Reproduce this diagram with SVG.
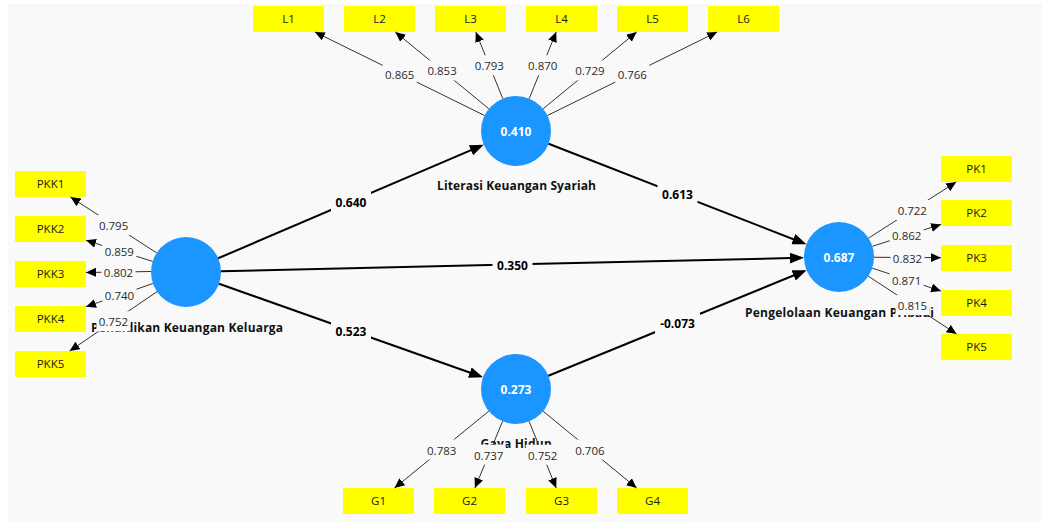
<svg xmlns="http://www.w3.org/2000/svg" width="1042" height="531" viewBox="0 0 1042 531">
  <style>
    .panel { fill: #f9f9f9; }
    .ind rect { fill: #ffff00; }
    .ind text { font-family: "Open Sans", "Noto Sans", sans-serif; font-size: 11.5px; fill: #1a1a1a; text-anchor: middle; }
    .lv circle { fill: #1b95ff; }
    .lv .val { font-family: "Open Sans", "Noto Sans", sans-serif; font-size: 12px; font-weight: bold; fill: #ffffff; text-anchor: middle; }
    .lv .name { font-family: "Open Sans", "Noto Sans", sans-serif; font-size: 12px; font-weight: bold; fill: #111111; text-anchor: middle; }
    .outer { stroke: #333333; stroke-width: 1; fill: none; marker-end: url(#ah-s); }
    .inner { stroke: #000000; stroke-width: 2; fill: none; marker-end: url(#ah-l); }
    .bg { fill: #f9f9f9; }
    .w { font-family: "Open Sans", "Noto Sans", sans-serif; font-size: 11.5px; fill: #2a2a2a; text-anchor: middle; }
    .p { font-family: "Open Sans", "Noto Sans", sans-serif; font-size: 12px; font-weight: bold; fill: #000000; text-anchor: middle; }
  </style>
  <defs>
    <marker id="ah-s" markerUnits="userSpaceOnUse" markerWidth="11" markerHeight="10" refX="10" refY="4.5" orient="auto">
      <path d="M0,0 L10,4.5 L0,9 z" fill="#000000"/>
    </marker>
    <marker id="ah-l" markerUnits="userSpaceOnUse" markerWidth="15" markerHeight="12" refX="11" refY="5.5" orient="auto">
      <path d="M0,0 L14,5.5 L0,11 z" fill="#000000"/>
    </marker>
  </defs>

  <rect class="panel" x="8" y="4" width="1034" height="518"/>

  <!-- latent variables -->
  <g id="pendidikan" class="lv">
    <circle cx="186" cy="272" r="35"/>
    <text class="name" x="187" y="332" textLength="192">Pendidikan Keuangan Keluarga</text>
  </g>
  <g id="literasi" class="lv">
    <circle cx="516" cy="131" r="35"/>
    <text class="val" x="516" y="135.5">0.410</text>
    <text class="name" x="516.5" y="189.5" textLength="159">Literasi Keuangan Syariah</text>
  </g>
  <g id="gaya-hidup" class="lv">
    <circle cx="516" cy="389" r="35"/>
    <text class="val" x="516" y="393.5">0.273</text>
    <text class="name" x="516" y="447.5" textLength="71">Gaya Hidup</text>
  </g>
  <g id="pengelolaan" class="lv">
    <circle cx="839" cy="257" r="35"/>
    <text class="val" x="839" y="261.5">0.687</text>
    <text class="name" x="839.5" y="317" textLength="189">Pengelolaan Keuangan Pribadi</text>
  </g>

  <!-- indicators -->
  <g id="L1" class="ind"><rect x="253" y="6" width="71" height="26"/><text x="288.5" y="23">L1</text></g>
  <g id="L2" class="ind"><rect x="344" y="6" width="71" height="26"/><text x="379.5" y="23">L2</text></g>
  <g id="L3" class="ind"><rect x="435" y="6" width="71" height="26"/><text x="470.5" y="23">L3</text></g>
  <g id="L4" class="ind"><rect x="526" y="6" width="71" height="26"/><text x="561.5" y="23">L4</text></g>
  <g id="L5" class="ind"><rect x="617" y="6" width="71" height="26"/><text x="652.5" y="23">L5</text></g>
  <g id="L6" class="ind"><rect x="708" y="6" width="71" height="26"/><text x="743.5" y="23">L6</text></g>

  <g id="PKK1" class="ind"><rect x="15" y="171" width="71" height="26"/><text x="50.5" y="188">PKK1</text></g>
  <g id="PKK2" class="ind"><rect x="15" y="216" width="71" height="26"/><text x="50.5" y="233">PKK2</text></g>
  <g id="PKK3" class="ind"><rect x="15" y="261" width="71" height="26"/><text x="50.5" y="278">PKK3</text></g>
  <g id="PKK4" class="ind"><rect x="15" y="306" width="71" height="26"/><text x="50.5" y="323">PKK4</text></g>
  <g id="PKK5" class="ind"><rect x="15" y="351" width="71" height="26"/><text x="50.5" y="368">PKK5</text></g>

  <g id="PK1" class="ind"><rect x="941" y="156" width="71" height="26"/><text x="976.5" y="173">PK1</text></g>
  <g id="PK2" class="ind"><rect x="941" y="200" width="71" height="26"/><text x="976.5" y="217">PK2</text></g>
  <g id="PK3" class="ind"><rect x="941" y="245" width="71" height="26"/><text x="976.5" y="262">PK3</text></g>
  <g id="PK4" class="ind"><rect x="941" y="290" width="71" height="26"/><text x="976.5" y="307">PK4</text></g>
  <g id="PK5" class="ind"><rect x="941" y="334" width="71" height="26"/><text x="976.5" y="351">PK5</text></g>

  <g id="G1" class="ind"><rect x="343" y="488" width="71" height="26"/><text x="378.5" y="505">G1</text></g>
  <g id="G2" class="ind"><rect x="434" y="488" width="71" height="26"/><text x="469.5" y="505">G2</text></g>
  <g id="G3" class="ind"><rect x="526" y="488" width="71" height="26"/><text x="561.5" y="505">G3</text></g>
  <g id="G4" class="ind"><rect x="617" y="488" width="71" height="26"/><text x="652.5" y="505">G4</text></g>

  <!-- connectors: outer loadings, then inner paths -->
  <g id="connectors">
    <line class="outer" x1="484.6" y1="115.5" x2="314.9" y2="32"/>
    <line class="outer" x1="488.9" y1="108.8" x2="395.3" y2="32"/>
    <line class="outer" x1="502.8" y1="98.6" x2="475.8" y2="32"/>
    <line class="outer" x1="529.2" y1="98.6" x2="556.2" y2="32"/>
    <line class="outer" x1="543.1" y1="108.8" x2="636.7" y2="32"/>
    <line class="outer" x1="547.4" y1="115.5" x2="717.1" y2="32"/>

    <line class="outer" x1="156.65" y1="252.9" x2="70.5" y2="197"/>
    <line class="outer" x1="152.65" y1="261.4" x2="86" y2="240.3"/>
    <line class="outer" x1="151" y1="271.5" x2="86" y2="272.5"/>
    <line class="outer" x1="152.9" y1="283.5" x2="86" y2="306.7"/>
    <line class="outer" x1="157.05" y1="291.7" x2="69.65" y2="351"/>

    <line class="outer" x1="868.5" y1="238.1" x2="956.2" y2="182"/>
    <line class="outer" x1="872.3" y1="246.3" x2="941" y2="224.4"/>
    <line class="outer" x1="874" y1="257.25" x2="941" y2="257.7"/>
    <line class="outer" x1="872.2" y1="268.1" x2="941" y2="291.1"/>
    <line class="outer" x1="868.3" y1="276.2" x2="956.6" y2="334"/>

    <line class="outer" x1="488.9" y1="411.1" x2="394.5" y2="488"/>
    <line class="outer" x1="502.6" y1="421.3" x2="474.9" y2="488"/>
    <line class="outer" x1="529.1" y1="421.4" x2="556.2" y2="488"/>
    <line class="outer" x1="543.1" y1="411.2" x2="636.7" y2="488"/>

    <line class="inner" x1="218.2" y1="258.25" x2="481.04" y2="145.93"/>
    <line class="inner" x1="219" y1="283.7" x2="480.17" y2="376.3"/>
    <line class="inner" x1="221" y1="271.2" x2="801" y2="257.87"/>
    <line class="inner" x1="548.6" y1="143.7" x2="803.6" y2="243.2"/>
    <line class="inner" x1="548.4" y1="375.8" x2="803.8" y2="271.3"/>

    <!-- loading labels -->
    <rect class="bg" x="382.7" y="63.7" width="34" height="20"/><text class="w" x="399.7" y="78.7">0.865</text>
    <rect class="bg" x="425.1" y="60.4" width="34" height="20"/><text class="w" x="442.1" y="75.4">0.853</text>
    <rect class="bg" x="472.3" y="55.3" width="34" height="20"/><text class="w" x="489.3" y="70.3">0.793</text>
    <rect class="bg" x="525.7" y="55.3" width="34" height="20"/><text class="w" x="542.7" y="70.3">0.870</text>
    <rect class="bg" x="572.9" y="60.4" width="34" height="20"/><text class="w" x="589.9" y="75.4">0.729</text>
    <rect class="bg" x="615.3" y="63.7" width="34" height="20"/><text class="w" x="632.3" y="78.7">0.766</text>

    <rect class="bg" x="96.6" y="215" width="34" height="20"/><text class="w" x="113.6" y="230">0.795</text>
    <rect class="bg" x="102.3" y="240.9" width="34" height="20"/><text class="w" x="119.3" y="255.9">0.859</text>
    <rect class="bg" x="101.5" y="262" width="34" height="20"/><text class="w" x="118.5" y="277">0.802</text>
    <rect class="bg" x="102.5" y="285.1" width="34" height="20"/><text class="w" x="119.5" y="300.1">0.740</text>
    <rect class="bg" x="96.4" y="311.3" width="34" height="20"/><text class="w" x="113.4" y="326.3">0.752</text>

    <rect class="bg" x="895.3" y="200" width="34" height="20"/><text class="w" x="912.3" y="215">0.722</text>
    <rect class="bg" x="889.7" y="225.4" width="34" height="20"/><text class="w" x="906.7" y="240.4">0.862</text>
    <rect class="bg" x="890.5" y="247.5" width="34" height="20"/><text class="w" x="907.5" y="262.5">0.832</text>
    <rect class="bg" x="889.6" y="269.6" width="34" height="20"/><text class="w" x="906.6" y="284.6">0.871</text>
    <rect class="bg" x="895.5" y="295.1" width="34" height="20"/><text class="w" x="912.5" y="310.1">0.815</text>

    <rect class="bg" x="424.7" y="439.5" width="34" height="20"/><text class="w" x="441.7" y="454.5">0.783</text>
    <rect class="bg" x="471.7" y="444.6" width="34" height="20"/><text class="w" x="488.7" y="459.6">0.737</text>
    <rect class="bg" x="525.7" y="444.7" width="34" height="20"/><text class="w" x="542.7" y="459.7">0.752</text>
    <rect class="bg" x="572.9" y="439.6" width="34" height="20"/><text class="w" x="589.9" y="454.6">0.706</text>

    <!-- path coefficients -->
    <rect class="bg" x="331" y="191.5" width="40" height="20"/><text class="p" x="351" y="206.5">0.640</text>
    <rect class="bg" x="331" y="320.5" width="40" height="20"/><text class="p" x="351" y="335.5">0.523</text>
    <rect class="bg" x="492.5" y="254.5" width="40" height="20"/><text class="p" x="512.5" y="269.5">0.350</text>
    <rect class="bg" x="657.5" y="184" width="40" height="20"/><text class="p" x="677.5" y="199">0.613</text>
    <rect class="bg" x="655" y="313" width="45" height="20"/><text class="p" x="677.5" y="328">-0.073</text>
  </g>
</svg>
